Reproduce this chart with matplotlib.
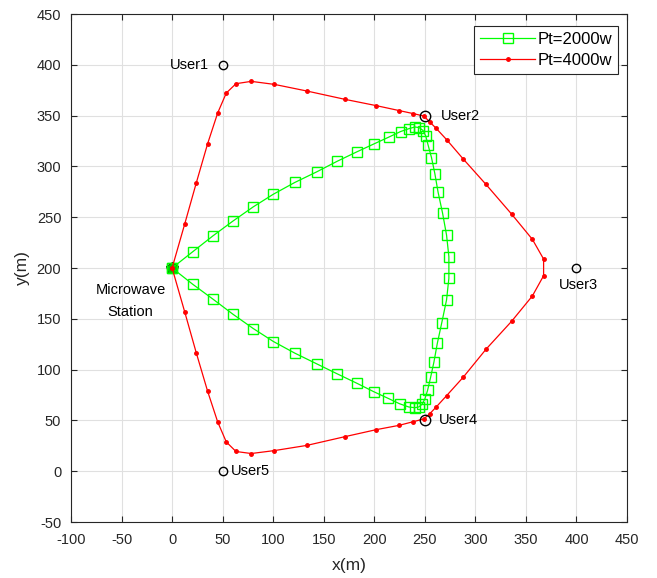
import numpy as np
import matplotlib
matplotlib.use('Agg')
import matplotlib.pyplot as plt

plt.rcParams['font.family'] = ['Liberation Sans', 'DejaVu Sans']
plt.rcParams['axes.unicode_minus'] = False

# Pt=2000w の軌跡
x_2000 = [0, 20.4, 40.5, 60.2, 80.3, 100.3, 121.4, 143, 163.4, 182.5, 199.6, 214.1,
          226, 234.5, 240.1, 244.4, 248.3, 251, 253.3, 256.6, 259.9, 263.1, 267.5,
          271.5, 273.8, 273.8, 271.5, 266.8, 262.4, 259, 255.7, 252.7, 250, 247.4,
          244, 240.1, 234.1, 225, 213.9, 199.6, 182.5, 163.4, 143, 121.4, 100.3,
          80.3, 60.2, 40.5, 20.4, 0]
y_2000 = [200, 216, 231.7, 246.2, 260.2, 272.7, 284.2, 294.6, 305.1, 314.2, 322.1, 328.7,
          334.3, 337.2, 338.8, 338.2, 335.3, 329.7, 320.8, 308.7, 293, 274.7, 254.3,
          232.4, 211.1, 189.9, 168.6, 146.3, 126, 107.4, 92.3, 79.5, 71, 66.1,
          63.2, 62.5, 63.2, 66.4, 71.6, 78.2, 86.7, 95.8, 105.7, 116.2, 127.6,
          140.4, 154.5, 169.3, 184, 200]

# Pt=4000w の軌跡
x_4000 = [0, 12.4, 24, 35.2, 45.1, 53.6, 63.2, 78.3, 101.3, 133.3, 171, 202, 224.4,
          238.4, 249, 254.9, 260.9, 271.5, 287.9, 310.3, 335.9, 356.4, 367.5, 367.5,
          356.4, 335.9, 310.5, 288, 271.5, 260.9, 254.9, 249, 238.4, 224.4, 202, 171,
          133.3, 101.3, 78.3, 63.2, 53.6, 45.1, 35.2, 24, 12.4, 0]
y_4000 = [200, 243, 284, 322.5, 352.6, 372.2, 381.4, 383.7, 380.7, 374.2, 366, 359.8, 355,
          352, 349.6, 343.7, 337.8, 326.4, 307.4, 282.5, 253, 228.2, 208.8, 192.4,
          172.5, 147.6, 120, 92.5, 74.3, 62.8, 56.6, 51.4, 48.7, 45.1, 40.9, 34,
          25.4, 20.3, 17.4, 19.4, 28.8, 48.5, 78.5, 116.2, 157.1, 200]

# ユーザ位置
user_names = ['User1', 'User2', 'User3', 'User4', 'User5']
user_x = [50, 250, 400, 250, 50]
user_y = [400, 350, 200, 50, 0]
station = (0, 200)

fig = plt.figure(figsize=(6.57, 5.78), dpi=100)
ax = fig.add_axes([71 / 657, 56 / 578, 556 / 657, 508 / 578])

ax.plot(x_2000, y_2000, color=(0, 1, 0), lw=0.9, marker='s', ms=6.5, mfc='none',
        mec=(0, 1, 0), mew=1, label='Pt=2000w', zorder=3)
ax.plot(x_4000, y_4000, color=(1, 0, 0), lw=0.9, marker='.', ms=5,
        label='Pt=4000w', zorder=4)

# 基地局
ax.plot(station[0], station[1], marker='p', ms=9, mfc=(0, 0.8, 0), mec='k',
        mew=0.6, ls='none', zorder=2)

sizes = [6, 7.5, 6, 7.5, 6]
for n, ux, uy, s in zip(user_names, user_x, user_y, sizes):
    ax.plot(ux, uy, 'o', mfc='none', mec='k', ms=s, mew=1, zorder=5)

fs = 10.5
ax.text(37, 400, 'User1', ha='right', va='center', fontsize=fs)
ax.text(266, 350, 'User2', ha='left', va='center', fontsize=fs)
ax.text(402, 183, 'User3', ha='center', va='center', fontsize=fs)
ax.text(264, 50, 'User4', ha='left', va='center', fontsize=fs)
ax.text(58, 0, 'User5', ha='left', va='center', fontsize=fs)
ax.text(-41, 178, 'Microwave', ha='center', va='center', fontsize=fs)
ax.text(-41, 157, 'Station', ha='center', va='center', fontsize=fs)

ax.set_xlim(-100, 450)
ax.set_ylim(-50, 450)
ax.set_xticks(np.arange(-100, 451, 50))
ax.set_yticks(np.arange(-50, 451, 50))
ax.grid(True, color=(0.88, 0.88, 0.88), lw=0.8)
ax.set_axisbelow(True)
ax.tick_params(direction='in', length=4, labelsize=10.5, colors=(0.15, 0.15, 0.15),
               top=True, right=True)
ax.tick_params(axis='x', pad=8)
ax.tick_params(axis='y', pad=7)
for sp in ax.spines.values():
    sp.set_color((0.15, 0.15, 0.15))
    sp.set_linewidth(0.8)
ax.set_xlabel('x(m)', fontsize=12.5, color=(0.15, 0.15, 0.15), labelpad=8)
ax.set_ylabel('y(m)', fontsize=12.5, color=(0.15, 0.15, 0.15), labelpad=5)

leg = ax.legend(loc='upper right', fontsize=12, fancybox=False, framealpha=1,
                edgecolor=(0.15, 0.15, 0.15), borderaxespad=0, handlelength=3.3,
                borderpad=0.35, labelspacing=0.35, handletextpad=0.15,
                bbox_to_anchor=(618 / 657, 1 - 26 / 578),
                bbox_transform=fig.transFigure)
leg.get_frame().set_linewidth(0.8)

fig.savefig('out.png', dpi=100)
